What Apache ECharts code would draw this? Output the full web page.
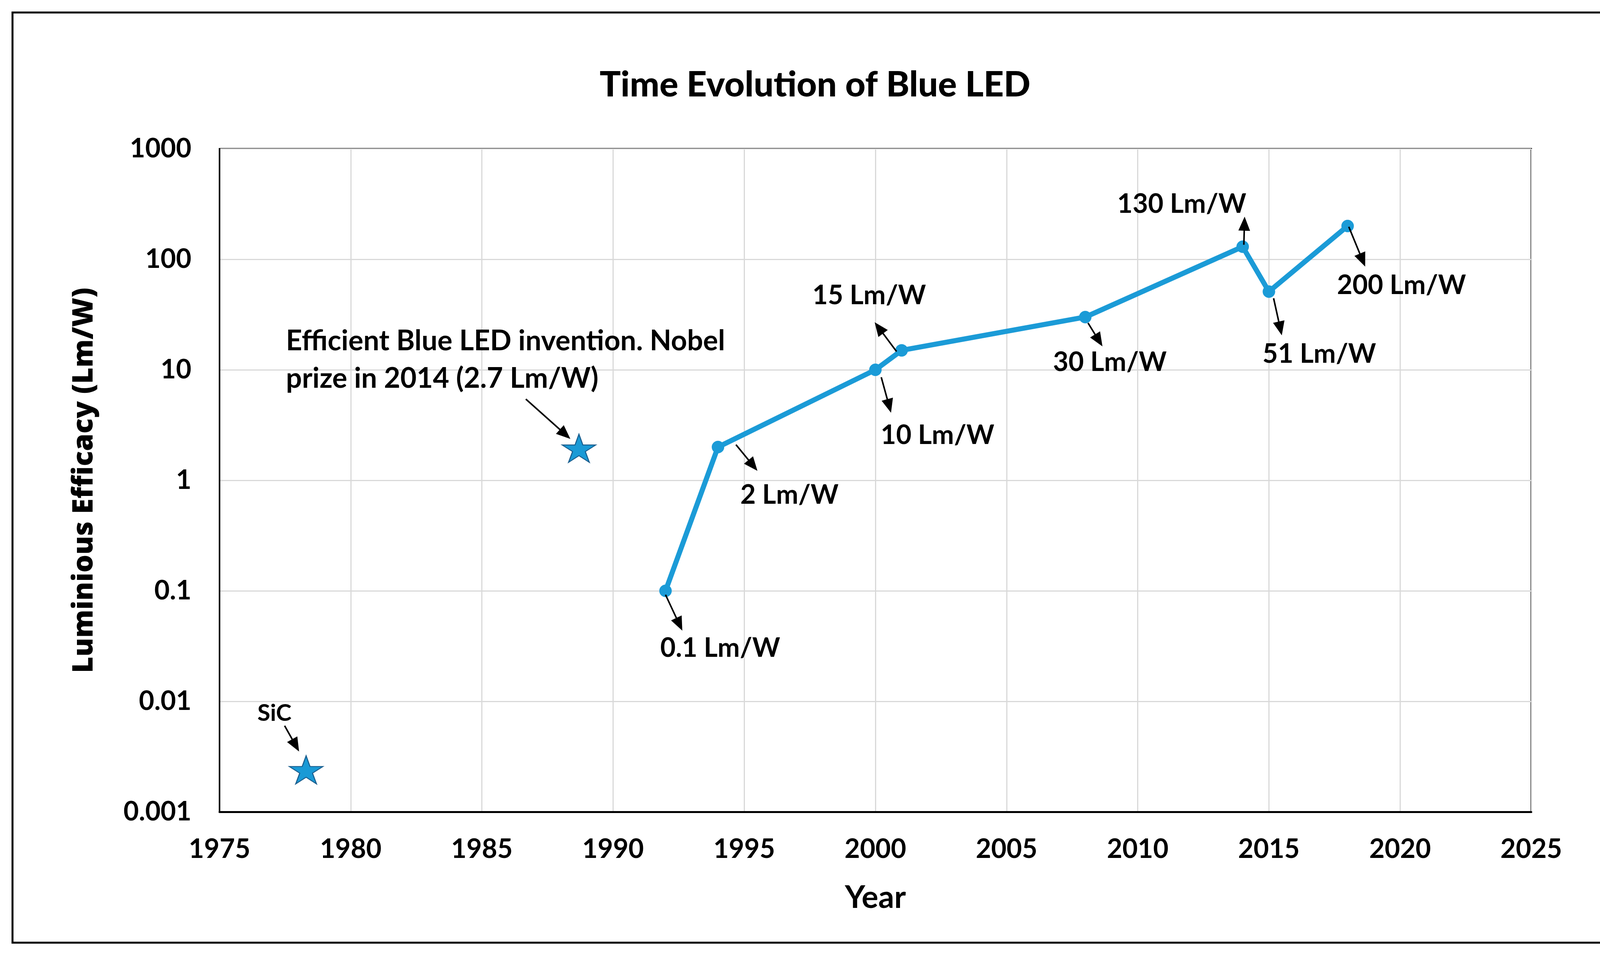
<!DOCTYPE html>
<html>
<head>
<meta charset="utf-8">
<script src="https://cdn.jsdelivr.net/npm/echarts@6/dist/echarts.min.js"></script>
<style>
  html, body { margin: 0; padding: 0; background: #ffffff; }
  #chart { width: 4173px; height: 2443px; }
</style>
</head>
<body>
<div id="chart"></div>
<script>
// ---------------- data ----------------
const years = [1992, 1994, 2000, 2001, 2008, 2014, 2015, 2018];
const efficacy = [0.1, 2, 10, 15, 30, 130, 51, 200];
const pointLabels = ['0.1 Lm/W', '2 Lm/W', '10 Lm/W', '15 Lm/W', '30 Lm/W', '130 Lm/W', '51 Lm/W', '200 Lm/W'];
const starYears = [1978.3, 1988.7];
const starValues = [0.0024, 1.95];
const starLabels = ['SiC', 'Efficient Blue LED invention. Nobel\nprize in 2014 (2.7 Lm/W)'];
const xTickLabels = ['1975', '1980', '1985', '1990', '1995', '2000', '2005', '2010', '2015', '2020', '2025'];
const yTickLabels = ['0.001', '0.01', '0.1', '1', '10', '100', '1000'];
const chartTitle = 'Time Evolution of Blue LED';
const xTitle = 'Year';
const yTitle = 'Luminious Efficacy (Lm/W)';

// ---------------- layout (pixel offsets of callouts relative to their point) ----------------
const pointCallouts = [
  { start: [0, 10],   end: [43, 102],  label: [140, 147] },
  { start: [46, -6],  end: [101, 61],  label: [183, 123] },
  { start: [15, 19],  end: [40, 110],  label: [159, 168] },
  { start: [-13, 3],  end: [-69, -72], label: [-83, -140] },
  { start: [7, 15],   end: [44, 75],   label: [63, 116] },
  { start: [3, -5],   end: [5, -77],   label: [-156, -109] },
  { start: [12, 17],  end: [33, 112],  label: [129, 160] },
  { start: [3, 2],    end: [45, 104],  label: [138, 152] }
];
const starCallouts = [
  { start: [-55, -113], end: [-18, -47], label: [-81, -145], align: 'center', size: 60 },
  { start: [-136, -126], end: [-22, -24], label: [-750, -226], align: 'left', size: 72 }
];

const FONT = 'Lato, "Open Sans", "Noto Sans", sans-serif';
const BLUE = '#1b9bd7';
const STAR = 'path://M50,0L61.17,34.63L97.55,34.55L68.07,55.87L79.39,90.45L50,69L20.61,90.45L31.93,55.87L2.45,34.55L38.83,34.63Z';

const chart = echarts.init(document.getElementById('chart'), null, { renderer: 'canvas' });

const option = {
  backgroundColor: '#ffffff',
  animation: false,
  title: {
    text: chartTitle,
    left: 'center',
    top: 168,
    textStyle: { fontFamily: FONT, fontWeight: 900, fontSize: 90, color: '#000' }
  },
  grid: {
    left: 562, right: 253, top: 381, bottom: 364,
    show: true, borderColor: '#000', borderWidth: 4, backgroundColor: 'transparent'
  },
  xAxis: {
    type: 'value',
    min: 1975, max: 2025, interval: 5,
    name: xTitle, nameLocation: 'middle', nameGap: 180,
    nameTextStyle: { fontFamily: FONT, fontWeight: 'bold', fontSize: 80, color: '#000' },
    axisLine: { show: true, lineStyle: { color: '#000', width: 5 } },
    axisTick: { show: false },
    axisLabel: {
      margin: 62, fontFamily: FONT, fontWeight: 'bold', fontSize: 68, color: '#000',
      formatter: function (v) { return xTickLabels[Math.round((v - 1975) / 5)] || ''; }
    },
    splitLine: { show: true, lineStyle: { color: '#d9d9d9', width: 3 } }
  },
  yAxis: {
    type: 'log', logBase: 10,
    min: 0.001, max: 1000,
    name: yTitle, nameLocation: 'middle', nameGap: 310,
    nameTextStyle: { fontFamily: '"Open Sans", Lato, sans-serif', fontWeight: 800, fontSize: 72, color: '#000' },
    axisLine: { show: true, lineStyle: { color: '#000', width: 4 } },
    axisTick: { show: false },
    axisLabel: {
      margin: 72, fontFamily: FONT, fontWeight: 'bold', fontSize: 68, color: '#000',
      formatter: function (v) { return yTickLabels[Math.round(Math.log10(v)) + 3] || ''; }
    },
    splitLine: { show: true, lineStyle: { color: '#d9d9d9', width: 3 } }
  },
  series: [
    {
      type: 'line',
      data: years.map((y, i) => [y, efficacy[i]]),
      symbol: 'circle', symbolSize: 32,
      lineStyle: { color: BLUE, width: 13 },
      itemStyle: { color: BLUE, opacity: 1 },
      z: 3
    },
    {
      type: 'scatter',
      data: starYears.map((y, i) => [y, starValues[i]]),
      symbol: STAR, symbolSize: [86, 72],
      itemStyle: { color: '#1a9ad6', borderColor: '#1b5f8f', borderWidth: 2.5, opacity: 1 },
      z: 3
    }
  ]
};
chart.setOption(option);

// ---------------- callouts (arrows and labels anchored to the data points) ----------------
function arrow(x1, y1, x2, y2) {
  const dx = x2 - x1, dy = y2 - y1;
  const len = Math.sqrt(dx * dx + dy * dy);
  const ux = dx / len, uy = dy / len;
  const hl = 36, hw = 15;
  const bx = x2 - ux * hl, by = y2 - uy * hl;
  return [
    { type: 'line', z: 10, shape: { x1: x1, y1: y1, x2: bx + ux * 4, y2: by + uy * 4 },
      style: { stroke: '#000', lineWidth: 4 } },
    { type: 'polygon', z: 10,
      shape: { points: [[x2, y2], [bx - uy * hw, by + ux * hw], [bx + uy * hw, by - ux * hw]] },
      style: { fill: '#000' } }
  ];
}
function label(x, y, text, align, size) {
  return { type: 'text', z: 10,
    style: { x: x, y: y, text: text, align: align, verticalAlign: 'middle',
             font: 'bold ' + size + 'px ' + FONT, fill: '#000', lineHeight: 96 } };
}

const graphics = [];
years.forEach((yr, i) => {
  const p = chart.convertToPixel({ gridIndex: 0 }, [yr, efficacy[i]]);
  const c = pointCallouts[i];
  graphics.push(...arrow(p[0] + c.start[0], p[1] + c.start[1], p[0] + c.end[0], p[1] + c.end[1]));
  graphics.push(label(p[0] + c.label[0], p[1] + c.label[1], pointLabels[i], 'center', 68));
});
starYears.forEach((yr, i) => {
  const p = chart.convertToPixel({ gridIndex: 0 }, [yr, starValues[i]]);
  const c = starCallouts[i];
  graphics.push(...arrow(p[0] + c.start[0], p[1] + c.start[1], p[0] + c.end[0], p[1] + c.end[1]));
  graphics.push(label(p[0] + c.label[0], p[1] + c.label[1], starLabels[i], c.align, c.size));
});
// outer frame
graphics.push({ type: 'rect', z: 0, shape: { x: 32, y: 32, width: 4106, height: 2382 },
  style: { fill: 'none', stroke: '#000', lineWidth: 5 } });

chart.setOption({ graphic: graphics });
</script>
</body>
</html>
